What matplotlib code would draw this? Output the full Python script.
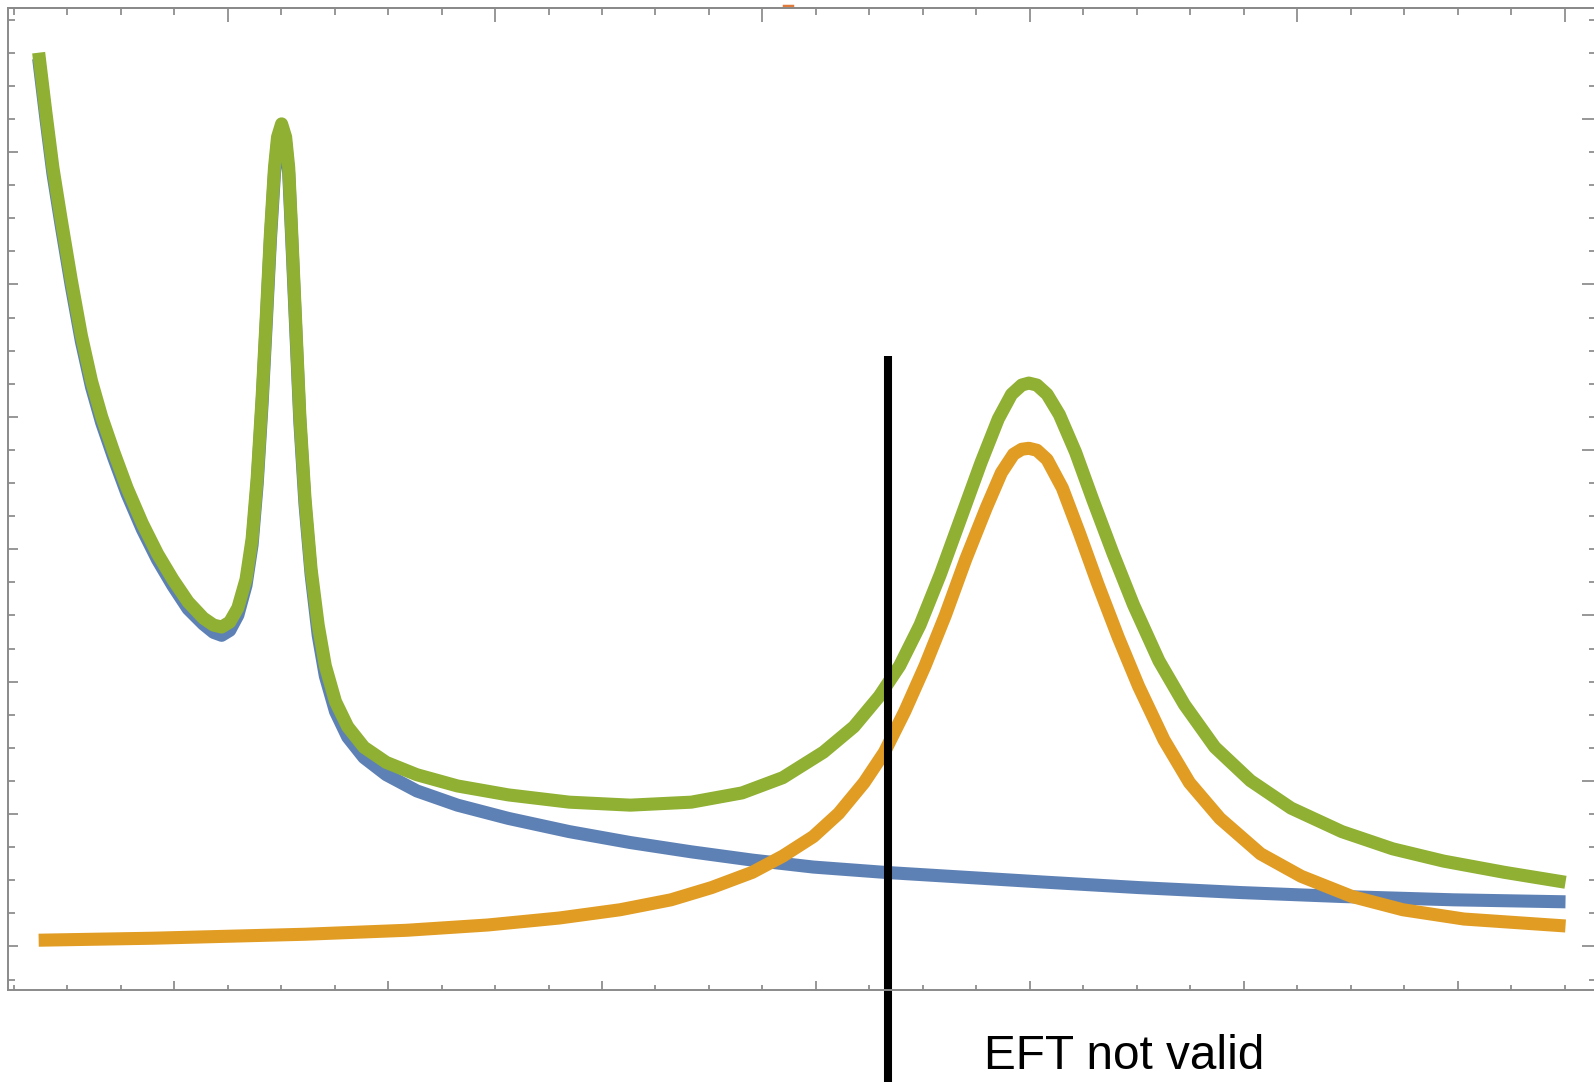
import matplotlib.pyplot as plt
import numpy as np

# curve samples (x in minor-tick units, y above baseline)
x_green = [0.470, 0.603, 0.736, 0.888, 1.078, 1.268, 1.458, 1.648, 1.876, 2.123,
           2.408, 2.693, 2.978, 3.263, 3.548, 3.738, 3.890, 4.042, 4.194, 4.346,
           4.460, 4.555, 4.648, 4.726, 4.802, 4.878, 4.935, 5.011, 5.087, 5.144,
           5.201, 5.277, 5.353, 5.448, 5.562, 5.695, 5.828, 6.018, 6.246, 6.550,
           6.968, 7.538, 8.298, 9.248, 10.389, 11.529, 12.669, 13.619, 14.379,
           15.139, 15.709, 16.184, 16.564, 16.944, 17.324, 17.705, 18.085, 18.408,
           18.655, 18.845, 18.978, 19.130, 19.320, 19.548, 19.852, 20.175, 20.555,
           20.935, 21.410, 21.885, 22.455, 23.120, 23.880, 24.830, 25.780, 26.730,
           27.870, 29.010]
y_green = [27.00, 25.22, 23.53, 21.99, 20.15, 18.46, 17.08, 16.00, 14.93, 13.85,
           12.78, 11.86, 11.09, 10.41, 9.92, 9.71, 9.65, 9.80, 10.23, 11.09,
           12.32, 14.16, 16.62, 19.07, 21.53, 23.53, 24.45, 24.85, 24.45, 23.53,
           21.53, 18.77, 16.00, 13.55, 11.40, 9.71, 8.48, 7.40, 6.64, 6.02,
           5.56, 5.19, 4.85, 4.58, 4.36, 4.27, 4.36, 4.64, 5.10,
           5.87, 6.64, 7.56, 8.48, 9.71, 11.24, 12.93, 14.62, 15.94,
           16.68, 16.96, 17.02, 16.96, 16.68, 16.07, 14.93, 13.49, 11.86,
           10.32, 8.63, 7.31, 6.02, 5.01, 4.18, 3.47, 2.95, 2.58,
           2.24, 1.94]

x_blue = [0.470, 0.603, 0.736, 0.888, 1.078, 1.268, 1.458, 1.648, 1.876, 2.123,
          2.408, 2.693, 2.978, 3.263, 3.548, 3.738, 3.890, 4.042, 4.194, 4.346,
          4.460, 4.555, 4.648, 4.726, 4.802, 4.878, 4.935, 5.011, 5.087, 5.144,
          5.201, 5.277, 5.353, 5.448, 5.562, 5.695, 5.828, 6.018, 6.246, 6.550,
          6.968, 7.538, 8.298, 9.248, 10.389, 11.529, 12.669, 13.809, 14.949,
          16.279, 17.800, 19.320, 21.030, 22.930, 24.830, 26.921, 29.010]
y_blue = [26.82, 25.04, 23.35, 21.81, 19.97, 18.28, 16.90, 15.82, 14.75, 13.67,
          12.60, 11.68, 10.90, 10.20, 9.74, 9.49, 9.40, 9.55, 10.01, 10.91,
          12.14, 13.98, 16.44, 18.89, 21.35, 23.35, 24.27, 24.67, 24.27, 23.35,
          21.35, 18.59, 15.82, 13.36, 11.24, 9.40, 8.17, 7.10, 6.33, 5.71,
          5.19, 4.70, 4.27, 3.87, 3.47, 3.14, 2.86, 2.61, 2.40,
          2.24, 2.09, 1.94, 1.78, 1.63, 1.51, 1.41, 1.35]

x_orange = [0.470, 2.598, 5.448, 7.348, 8.868, 10.199, 11.339, 12.289, 13.049,
            13.809, 14.379, 14.949, 15.424, 15.899, 16.279, 16.659, 17.039, 17.419,
            17.800, 18.180, 18.465, 18.693, 18.845, 18.978, 19.130, 19.320, 19.605,
            19.928, 20.270, 20.650, 21.030, 21.505, 21.980, 22.550, 23.310, 24.070,
            25.020, 25.970, 27.110, 29.010]
y_orange = [0.19, 0.25, 0.37, 0.49, 0.65, 0.86, 1.11, 1.41, 1.78,
            2.24, 2.73, 3.32, 4.02, 4.95, 5.87, 7.10, 8.48, 10.01,
            11.70, 13.24, 14.31, 14.87, 15.02, 15.05, 14.99, 14.71, 13.85,
            12.47, 10.94, 9.34, 7.86, 6.24, 4.95, 3.87, 2.80, 2.12,
            1.51, 1.11, 0.83, 0.62]

eft_cut = 16.34
label = "EFT not valid"

fig = plt.figure(figsize=(15.94, 10.82), dpi=100)
ax = fig.add_axes([0.00502, 0.08503, 0.99624, 0.90758])

lw = 9.4
ax.plot(x_blue, y_blue, color='#5E81B5', lw=lw, solid_capstyle='butt', solid_joinstyle='round')
ax.plot(x_orange, y_orange, color='#E19C24', lw=lw, solid_capstyle='butt', solid_joinstyle='round')
ax.plot(x_green, y_green, color='#8FB032', lw=lw, solid_capstyle='butt', solid_joinstyle='round')

ax.plot([eft_cut, eft_cut], [17.84, -4.6], color='black', lw=5.8, clip_on=False,
        solid_capstyle='butt')
ax.text(18.14, -3.70, label, fontsize=34.4, family='Liberation Sans', va='baseline',
        ha='left', clip_on=False)

ax.set_xlim(-0.103, 29.58)
ax.set_ylim(-1.314, 28.35)

spine_col = '#8a8a8a'
for s in ax.spines.values():
    s.set_color(spine_col)
    s.set_linewidth(1.4)

tick_col = '#7a7a7a'
ax.set_xticks(np.arange(3, 29, 4))
ax.set_xticks(np.arange(0, 30, 1), minor=True)
ax.set_yticks(np.arange(0, 28, 4))
ax.set_yticks(np.arange(-1, 29, 1), minor=True)
ax.tick_params(which='both', direction='in', colors=tick_col, width=1.1,
               labelbottom=False, labelleft=False)
ax.tick_params(axis='x', which='major', length=6.5)
ax.tick_params(axis='x', which='minor', length=3.6)
ax.tick_params(axis='y', which='major', length=7)
ax.tick_params(axis='y', which='minor', length=5)

top = ax.secondary_xaxis('top')
top.set_xticks(np.arange(4, 30, 5))
top.set_xticks(np.arange(0, 30, 1), minor=True)
top.tick_params(which='both', direction='in', colors=tick_col, width=1.1, labeltop=False)
top.tick_params(which='major', length=10)
top.tick_params(which='minor', length=5)
top.spines['top'].set_color(spine_col)
top.spines['top'].set_linewidth(1.4)

right = ax.secondary_yaxis('right')
right.set_yticks(np.arange(0, 28, 5))
right.set_yticks(np.arange(-1, 29, 1), minor=True)
right.tick_params(which='both', direction='in', colors=tick_col, width=1.1, labelright=False)
right.tick_params(which='major', length=10)
right.tick_params(which='minor', length=5)
right.spines['right'].set_color(spine_col)

# small orange stub poking above the frame
ax.plot([14.40, 14.56], [28.42, 28.42], color='#E07A3A', lw=2.5, clip_on=False)

fig.savefig('out.png', dpi=100)
